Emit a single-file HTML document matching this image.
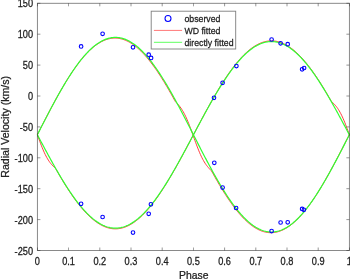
<!DOCTYPE html>
<html><head><meta charset="utf-8"><style>
html,body{margin:0;padding:0;background:#fff;width:350px;height:279px;overflow:hidden}
svg{display:block;filter:blur(0.35px)}
text{font-family:"Liberation Sans",sans-serif;stroke:#1a1a1a;stroke-width:0.25px}
</style></head><body>
<svg width="350" height="279" viewBox="0 0 350 279" font-family="Liberation Sans, sans-serif" font-size="9" fill="#262626">
<rect width="350" height="279" fill="#fff"/>
<polyline points="37.40,134.54 38.18,133.02 38.96,131.49 39.74,129.96 40.52,128.44 41.30,126.91 42.08,125.39 42.86,123.87 43.64,122.36 44.42,120.84 45.20,119.33 45.98,117.83 46.76,116.33 47.54,114.83 48.32,113.34 49.10,111.85 49.88,110.37 50.66,108.90 51.44,107.43 52.22,105.97 53.00,104.52 53.78,103.07 54.56,101.64 55.34,100.21 56.12,98.79 56.90,97.38 57.68,95.97 58.46,94.58 59.24,93.20 60.02,91.83 60.80,90.47 61.58,89.12 62.36,87.78 63.14,86.45 63.92,85.14 64.70,83.83 65.48,82.54 66.26,81.27 67.04,80.00 67.82,78.75 68.60,77.52 69.38,76.30 70.16,75.09 70.94,73.90 71.72,72.72 72.50,71.56 73.28,70.41 74.06,69.29 74.84,68.17 75.62,67.08 76.40,66.00 77.18,64.93 77.96,63.89 78.74,62.86 79.52,61.85 80.30,60.86 81.08,59.89 81.86,58.93 82.64,58.00 83.42,57.08 84.20,56.18 84.98,55.30 85.76,54.45 86.54,53.61 87.32,52.79 88.10,51.99 88.88,51.22 89.66,50.46 90.44,49.73 91.22,49.01 92.00,48.32 92.78,47.65 93.56,47.00 94.34,46.37 95.12,45.77 95.90,45.18 96.68,44.62 97.46,44.08 98.24,43.57 99.02,43.07 99.80,42.60 100.58,42.15 101.36,41.73 102.14,41.33 102.92,40.95 103.70,40.59 104.48,40.26 105.26,39.95 106.04,39.67 106.82,39.41 107.60,39.17 108.38,38.95 109.16,38.76 109.94,38.60 110.72,38.46 111.50,38.34 112.28,38.24 113.06,38.17 113.84,38.12 114.62,38.10 115.40,38.10 116.18,38.13 116.96,38.18 117.74,38.25 118.52,38.35 119.30,38.47 120.08,38.62 120.86,38.79 121.64,38.98 122.42,39.20 123.20,39.44 123.98,39.70 124.76,39.99 125.54,40.30 126.32,40.63 127.10,40.99 127.88,41.37 128.66,41.78 129.44,42.21 130.22,42.66 131.00,43.13 131.78,43.63 132.56,44.15 133.34,44.69 134.12,45.25 134.90,45.84 135.68,46.45 136.46,47.08 137.24,47.73 138.02,48.40 138.80,49.10 139.58,49.81 140.36,50.55 141.14,51.31 141.92,52.09 142.70,52.89 143.48,53.71 144.26,54.55 145.04,55.41 145.82,56.29 146.60,57.19 147.38,58.11 148.16,59.05 148.94,60.00 149.72,60.98 150.50,61.97 151.28,62.98 152.06,64.01 152.84,65.06 153.62,66.12 154.40,67.21 155.18,68.30 155.96,69.42 156.74,70.55 157.52,71.70 158.30,72.86 159.08,74.04 159.86,75.23 160.64,76.44 161.42,77.67 162.20,78.90 162.98,80.15 163.76,81.42 164.54,82.70 165.32,83.99 166.10,85.29 166.88,86.61 167.66,87.94 168.44,89.28 169.22,90.63 170.00,91.99 170.78,93.36 171.56,94.75 172.34,96.14 173.12,97.54 173.90,98.96 174.68,100.38 175.46,101.68 176.24,102.47 177.02,103.28 177.80,104.13 178.58,105.02 179.36,105.97 180.14,106.98 180.92,108.06 181.70,109.22 182.48,110.46 183.26,111.79 184.04,113.22 184.82,114.73 185.60,116.34 186.38,118.03 187.16,119.81 187.94,121.68 188.72,123.61 189.50,125.61 190.28,127.67 191.06,129.77 191.84,131.92 192.62,134.08 193.40,136.26 194.18,138.43 194.96,140.60 195.74,142.73 196.52,144.84 197.30,146.89 198.08,148.89 198.86,150.83 199.64,152.68 200.42,154.46 201.20,156.15 201.98,157.76 202.76,159.27 203.54,160.68 204.32,162.01 205.10,163.25 205.88,164.40 206.66,165.47 207.44,166.47 208.22,167.41 209.00,168.30 209.78,169.13 210.56,169.94 211.34,170.72 212.12,172.01 212.90,173.42 213.68,174.83 214.46,176.22 215.24,177.60 216.02,178.97 216.80,180.33 217.58,181.68 218.36,183.02 219.14,184.35 219.92,185.66 220.70,186.97 221.48,188.26 222.26,189.53 223.04,190.80 223.82,192.05 224.60,193.28 225.38,194.50 226.16,195.71 226.94,196.90 227.72,198.08 228.50,199.24 229.28,200.39 230.06,201.51 230.84,202.63 231.62,203.72 232.40,204.80 233.18,205.87 233.96,206.91 234.74,207.94 235.52,208.95 236.30,209.94 237.08,210.91 237.86,211.87 238.64,212.80 239.42,213.72 240.20,214.62 240.98,215.50 241.76,216.35 242.54,217.19 243.32,218.01 244.10,218.81 244.88,219.58 245.66,220.34 246.44,221.07 247.22,221.79 248.00,222.48 248.78,223.15 249.56,223.80 250.34,224.43 251.12,225.03 251.90,225.62 252.68,226.18 253.46,226.72 254.24,227.23 255.02,227.73 255.80,228.20 256.58,228.65 257.36,229.07 258.14,229.47 258.92,229.85 259.70,230.21 260.48,230.54 261.26,230.85 262.04,231.13 262.82,231.39 263.60,231.63 264.38,231.85 265.16,232.04 265.94,232.20 266.72,232.34 267.50,232.46 268.28,232.56 269.06,232.63 269.84,232.68 270.62,232.70 271.40,232.70 272.18,232.67 272.96,232.62 273.74,232.55 274.52,232.45 275.30,232.33 276.08,232.18 276.86,232.01 277.64,231.82 278.42,231.60 279.20,231.36 279.98,231.10 280.76,230.81 281.54,230.50 282.32,230.17 283.10,229.81 283.88,229.43 284.66,229.02 285.44,228.59 286.22,228.14 287.00,227.67 287.78,227.17 288.56,226.65 289.34,226.11 290.12,225.55 290.90,224.96 291.68,224.35 292.46,223.72 293.24,223.07 294.02,222.40 294.80,221.70 295.58,220.99 296.36,220.25 297.14,219.49 297.92,218.71 298.70,217.91 299.48,217.09 300.26,216.25 301.04,215.39 301.82,214.51 302.60,213.61 303.38,212.69 304.16,211.75 304.94,210.80 305.72,209.82 306.50,208.83 307.28,207.82 308.06,206.79 308.84,205.74 309.62,204.68 310.40,203.59 311.18,202.50 311.96,201.38 312.74,200.25 313.52,199.10 314.30,197.94 315.08,196.76 315.86,195.57 316.64,194.36 317.42,193.13 318.20,191.90 318.98,190.65 319.76,189.38 320.54,188.10 321.32,186.81 322.10,185.51 322.88,184.19 323.66,182.86 324.44,181.52 325.22,180.17 326.00,178.81 326.78,177.44 327.56,176.05 328.34,174.66 329.12,173.26 329.90,171.84 330.68,170.42 331.46,168.99 332.24,167.55 333.02,166.11 333.80,164.65 334.58,163.19 335.36,161.72 336.14,160.25 336.92,158.77 337.70,157.28 338.48,155.79 339.26,154.29 340.04,152.79 340.82,151.28 341.60,149.78 342.38,148.26 343.16,146.75 343.94,145.23 344.72,143.70 345.50,142.18 346.28,140.66 347.06,139.13 347.84,137.60 348.62,136.07 349.40,134.54" fill="none" stroke="#ff2828" stroke-width="0.9"/>
<polyline points="37.40,134.85 38.18,137.00 38.96,139.14 39.74,141.25 40.52,143.33 41.30,145.36 42.08,147.33 42.86,149.23 43.64,151.05 44.42,152.79 45.20,154.44 45.98,155.99 46.76,157.46 47.54,158.82 48.32,160.09 49.10,161.27 49.88,162.37 50.66,163.38 51.44,164.31 52.22,165.18 53.00,166.00 53.78,166.77 54.56,167.50 55.34,168.21 56.12,169.45 56.90,170.82 57.68,172.18 58.46,173.53 59.24,174.87 60.02,176.20 60.80,177.53 61.58,178.84 62.36,180.13 63.14,181.42 63.92,182.70 64.70,183.96 65.48,185.22 66.26,186.46 67.04,187.69 67.82,188.90 68.60,190.10 69.38,191.29 70.16,192.46 70.94,193.62 71.72,194.77 72.50,195.90 73.28,197.01 74.06,198.11 74.84,199.20 75.62,200.27 76.40,201.32 77.18,202.35 77.96,203.37 78.74,204.38 79.52,205.36 80.30,206.33 81.08,207.28 81.86,208.21 82.64,209.12 83.42,210.02 84.20,210.90 84.98,211.76 85.76,212.60 86.54,213.42 87.32,214.22 88.10,215.00 88.88,215.76 89.66,216.50 90.44,217.22 91.22,217.92 92.00,218.60 92.78,219.26 93.56,219.90 94.34,220.52 95.12,221.12 95.90,221.69 96.68,222.25 97.46,222.78 98.24,223.29 99.02,223.78 99.80,224.25 100.58,224.69 101.36,225.12 102.14,225.52 102.92,225.90 103.70,226.25 104.48,226.59 105.26,226.90 106.04,227.19 106.82,227.45 107.60,227.69 108.38,227.91 109.16,228.11 109.94,228.28 110.72,228.43 111.50,228.56 112.28,228.66 113.06,228.75 113.84,228.80 114.62,228.84 115.40,228.85 116.18,228.84 116.96,228.80 117.74,228.75 118.52,228.66 119.30,228.56 120.08,228.43 120.86,228.28 121.64,228.11 122.42,227.91 123.20,227.69 123.98,227.45 124.76,227.19 125.54,226.90 126.32,226.59 127.10,226.25 127.88,225.90 128.66,225.52 129.44,225.12 130.22,224.69 131.00,224.25 131.78,223.78 132.56,223.29 133.34,222.78 134.12,222.25 134.90,221.69 135.68,221.12 136.46,220.52 137.24,219.90 138.02,219.26 138.80,218.60 139.58,217.92 140.36,217.22 141.14,216.50 141.92,215.76 142.70,215.00 143.48,214.22 144.26,213.42 145.04,212.60 145.82,211.76 146.60,210.90 147.38,210.02 148.16,209.12 148.94,208.21 149.72,207.28 150.50,206.33 151.28,205.36 152.06,204.38 152.84,203.37 153.62,202.35 154.40,201.32 155.18,200.27 155.96,199.20 156.74,198.11 157.52,197.01 158.30,195.90 159.08,194.77 159.86,193.62 160.64,192.46 161.42,191.29 162.20,190.10 162.98,188.90 163.76,187.69 164.54,186.46 165.32,185.22 166.10,183.96 166.88,182.70 167.66,181.42 168.44,180.13 169.22,178.84 170.00,177.53 170.78,176.20 171.56,174.87 172.34,173.53 173.12,172.18 173.90,170.82 174.68,169.45 175.46,168.08 176.24,166.69 177.02,165.30 177.80,163.90 178.58,162.49 179.36,161.08 180.14,159.65 180.92,158.23 181.70,156.79 182.48,155.36 183.26,153.91 184.04,152.46 184.82,151.01 185.60,149.55 186.38,148.09 187.16,146.63 187.94,145.17 188.72,143.70 189.50,142.23 190.28,140.75 191.06,139.28 191.84,137.80 192.62,136.33 193.40,134.85 194.18,133.37 194.96,131.90 195.74,130.42 196.52,128.95 197.30,127.47 198.08,126.00 198.86,124.53 199.64,123.07 200.42,121.61 201.20,120.15 201.98,118.69 202.76,117.24 203.54,115.79 204.32,114.34 205.10,112.91 205.88,111.47 206.66,110.05 207.44,108.62 208.22,107.21 209.00,105.80 209.78,104.40 210.56,103.01 211.34,101.62 212.12,100.25 212.90,98.88 213.68,97.52 214.46,96.17 215.24,94.83 216.02,93.50 216.80,92.17 217.58,90.86 218.36,89.57 219.14,88.28 219.92,87.00 220.70,85.74 221.48,84.48 222.26,83.24 223.04,82.01 223.82,80.80 224.60,79.60 225.38,78.41 226.16,77.24 226.94,76.08 227.72,74.93 228.50,73.80 229.28,72.69 230.06,71.59 230.84,70.50 231.62,69.43 232.40,68.38 233.18,67.35 233.96,66.33 234.74,65.32 235.52,64.34 236.30,63.37 237.08,62.42 237.86,61.49 238.64,60.58 239.42,59.68 240.20,58.80 240.98,57.94 241.76,57.10 242.54,56.28 243.32,55.48 244.10,54.70 244.88,53.94 245.66,53.20 246.44,52.48 247.22,51.78 248.00,51.10 248.78,50.44 249.56,49.80 250.34,49.18 251.12,48.58 251.90,48.01 252.68,47.45 253.46,46.92 254.24,46.41 255.02,45.92 255.80,45.45 256.58,45.01 257.36,44.58 258.14,44.18 258.92,43.80 259.70,43.45 260.48,43.11 261.26,42.80 262.04,42.51 262.82,42.25 263.60,42.01 264.38,41.79 265.16,41.59 265.94,41.42 266.72,41.27 267.50,41.14 268.28,41.04 269.06,40.95 269.84,40.90 270.62,40.86 271.40,40.85 272.18,40.86 272.96,40.90 273.74,40.95 274.52,41.04 275.30,41.14 276.08,41.27 276.86,41.42 277.64,41.59 278.42,41.79 279.20,42.01 279.98,42.25 280.76,42.51 281.54,42.80 282.32,43.11 283.10,43.45 283.88,43.80 284.66,44.18 285.44,44.58 286.22,45.01 287.00,45.45 287.78,45.92 288.56,46.41 289.34,46.92 290.12,47.45 290.90,48.01 291.68,48.58 292.46,49.18 293.24,49.80 294.02,50.44 294.80,51.10 295.58,51.78 296.36,52.48 297.14,53.20 297.92,53.94 298.70,54.70 299.48,55.48 300.26,56.28 301.04,57.10 301.82,57.94 302.60,58.80 303.38,59.68 304.16,60.58 304.94,61.49 305.72,62.42 306.50,63.37 307.28,64.34 308.06,65.32 308.84,66.33 309.62,67.35 310.40,68.38 311.18,69.43 311.96,70.50 312.74,71.59 313.52,72.69 314.30,73.80 315.08,74.93 315.86,76.08 316.64,77.24 317.42,78.41 318.20,79.60 318.98,80.80 319.76,82.01 320.54,83.24 321.32,84.48 322.10,85.74 322.88,87.00 323.66,88.28 324.44,89.57 325.22,90.86 326.00,92.17 326.78,93.50 327.56,94.83 328.34,96.17 329.12,97.52 329.90,98.88 330.68,100.25 331.46,101.49 332.24,102.20 333.02,102.93 333.80,103.70 334.58,104.52 335.36,105.39 336.14,106.32 336.92,107.33 337.70,108.43 338.48,109.61 339.26,110.88 340.04,112.24 340.82,113.71 341.60,115.26 342.38,116.91 343.16,118.65 343.94,120.47 344.72,122.37 345.50,124.34 346.28,126.37 347.06,128.45 347.84,130.56 348.62,132.70 349.40,134.85" fill="none" stroke="#ff2828" stroke-width="0.9"/>
<polyline points="37.40,134.70 38.18,133.17 38.96,131.64 39.74,130.12 40.52,128.59 41.30,127.07 42.08,125.54 42.86,124.02 43.64,122.51 44.42,120.99 45.20,119.48 45.98,117.97 46.76,116.47 47.54,114.97 48.32,113.47 49.10,111.99 49.88,110.50 50.66,109.03 51.44,107.55 52.22,106.09 53.00,104.63 53.78,103.18 54.56,101.74 55.34,100.31 56.12,98.88 56.90,97.46 57.68,96.06 58.46,94.66 59.24,93.27 60.02,91.89 60.80,90.53 61.58,89.17 62.36,87.83 63.14,86.49 63.92,85.17 64.70,83.86 65.48,82.56 66.26,81.28 67.04,80.01 67.82,78.75 68.60,77.51 69.38,76.28 70.16,75.06 70.94,73.86 71.72,72.68 72.50,71.51 73.28,70.35 74.06,69.22 74.84,68.09 75.62,66.99 76.40,65.90 77.18,64.83 77.96,63.77 78.74,62.73 79.52,61.71 80.30,60.71 81.08,59.73 81.86,58.76 82.64,57.82 83.42,56.89 84.20,55.98 84.98,55.09 85.76,54.23 86.54,53.38 87.32,52.55 88.10,51.74 88.88,50.95 89.66,50.18 90.44,49.44 91.22,48.71 92.00,48.01 92.78,47.32 93.56,46.66 94.34,46.02 95.12,45.40 95.90,44.81 96.68,44.23 97.46,43.68 98.24,43.15 99.02,42.65 99.80,42.16 100.58,41.70 101.36,41.26 102.14,40.85 102.92,40.46 103.70,40.09 104.48,39.74 105.26,39.42 106.04,39.12 106.82,38.85 107.60,38.60 108.38,38.37 109.16,38.17 109.94,37.99 110.72,37.83 111.50,37.70 112.28,37.59 113.06,37.51 113.84,37.45 114.62,37.41 115.40,37.40 116.18,37.41 116.96,37.45 117.74,37.51 118.52,37.59 119.30,37.70 120.08,37.83 120.86,37.99 121.64,38.17 122.42,38.37 123.20,38.60 123.98,38.85 124.76,39.12 125.54,39.42 126.32,39.74 127.10,40.09 127.88,40.46 128.66,40.85 129.44,41.26 130.22,41.70 131.00,42.16 131.78,42.65 132.56,43.15 133.34,43.68 134.12,44.23 134.90,44.81 135.68,45.40 136.46,46.02 137.24,46.66 138.02,47.32 138.80,48.01 139.58,48.71 140.36,49.44 141.14,50.18 141.92,50.95 142.70,51.74 143.48,52.55 144.26,53.38 145.04,54.23 145.82,55.09 146.60,55.98 147.38,56.89 148.16,57.82 148.94,58.76 149.72,59.73 150.50,60.71 151.28,61.71 152.06,62.73 152.84,63.77 153.62,64.83 154.40,65.90 155.18,66.99 155.96,68.09 156.74,69.22 157.52,70.35 158.30,71.51 159.08,72.68 159.86,73.86 160.64,75.06 161.42,76.28 162.20,77.51 162.98,78.75 163.76,80.01 164.54,81.28 165.32,82.56 166.10,83.86 166.88,85.17 167.66,86.49 168.44,87.83 169.22,89.17 170.00,90.53 170.78,91.89 171.56,93.27 172.34,94.66 173.12,96.06 173.90,97.46 174.68,98.88 175.46,100.31 176.24,101.74 177.02,103.18 177.80,104.63 178.58,106.09 179.36,107.55 180.14,109.03 180.92,110.50 181.70,111.99 182.48,113.47 183.26,114.97 184.04,116.47 184.82,117.97 185.60,119.48 186.38,120.99 187.16,122.51 187.94,124.02 188.72,125.54 189.50,127.07 190.28,128.59 191.06,130.12 191.84,131.64 192.62,133.17 193.40,134.70 194.18,136.23 194.96,137.76 195.74,139.28 196.52,140.81 197.30,142.33 198.08,143.86 198.86,145.38 199.64,146.89 200.42,148.41 201.20,149.92 201.98,151.43 202.76,152.93 203.54,154.43 204.32,155.93 205.10,157.41 205.88,158.90 206.66,160.37 207.44,161.85 208.22,163.31 209.00,164.77 209.78,166.22 210.56,167.66 211.34,169.09 212.12,170.52 212.90,171.94 213.68,173.34 214.46,174.74 215.24,176.13 216.02,177.51 216.80,178.87 217.58,180.23 218.36,181.57 219.14,182.91 219.92,184.23 220.70,185.54 221.48,186.84 222.26,188.12 223.04,189.39 223.82,190.65 224.60,191.89 225.38,193.12 226.16,194.34 226.94,195.54 227.72,196.72 228.50,197.89 229.28,199.05 230.06,200.18 230.84,201.31 231.62,202.41 232.40,203.50 233.18,204.57 233.96,205.63 234.74,206.67 235.52,207.69 236.30,208.69 237.08,209.67 237.86,210.64 238.64,211.58 239.42,212.51 240.20,213.42 240.98,214.31 241.76,215.17 242.54,216.02 243.32,216.85 244.10,217.66 244.88,218.45 245.66,219.22 246.44,219.96 247.22,220.69 248.00,221.39 248.78,222.08 249.56,222.74 250.34,223.38 251.12,224.00 251.90,224.59 252.68,225.17 253.46,225.72 254.24,226.25 255.02,226.75 255.80,227.24 256.58,227.70 257.36,228.14 258.14,228.55 258.92,228.94 259.70,229.31 260.48,229.66 261.26,229.98 262.04,230.28 262.82,230.55 263.60,230.80 264.38,231.03 265.16,231.23 265.94,231.41 266.72,231.57 267.50,231.70 268.28,231.81 269.06,231.89 269.84,231.95 270.62,231.99 271.40,232.00 272.18,231.99 272.96,231.95 273.74,231.89 274.52,231.81 275.30,231.70 276.08,231.57 276.86,231.41 277.64,231.23 278.42,231.03 279.20,230.80 279.98,230.55 280.76,230.28 281.54,229.98 282.32,229.66 283.10,229.31 283.88,228.94 284.66,228.55 285.44,228.14 286.22,227.70 287.00,227.24 287.78,226.75 288.56,226.25 289.34,225.72 290.12,225.17 290.90,224.59 291.68,224.00 292.46,223.38 293.24,222.74 294.02,222.08 294.80,221.39 295.58,220.69 296.36,219.96 297.14,219.22 297.92,218.45 298.70,217.66 299.48,216.85 300.26,216.02 301.04,215.17 301.82,214.31 302.60,213.42 303.38,212.51 304.16,211.58 304.94,210.64 305.72,209.67 306.50,208.69 307.28,207.69 308.06,206.67 308.84,205.63 309.62,204.57 310.40,203.50 311.18,202.41 311.96,201.31 312.74,200.18 313.52,199.05 314.30,197.89 315.08,196.72 315.86,195.54 316.64,194.34 317.42,193.12 318.20,191.89 318.98,190.65 319.76,189.39 320.54,188.12 321.32,186.84 322.10,185.54 322.88,184.23 323.66,182.91 324.44,181.57 325.22,180.23 326.00,178.87 326.78,177.51 327.56,176.13 328.34,174.74 329.12,173.34 329.90,171.94 330.68,170.52 331.46,169.09 332.24,167.66 333.02,166.22 333.80,164.77 334.58,163.31 335.36,161.85 336.14,160.37 336.92,158.90 337.70,157.41 338.48,155.93 339.26,154.43 340.04,152.93 340.82,151.43 341.60,149.92 342.38,148.41 343.16,146.89 343.94,145.38 344.72,143.86 345.50,142.33 346.28,140.81 347.06,139.28 347.84,137.76 348.62,136.23 349.40,134.70" fill="none" stroke="#c8ffc8" stroke-width="0"/>
<polyline points="37.40,134.85 38.18,136.32 38.96,137.78 39.74,139.25 40.52,140.71 41.30,142.17 42.08,143.63 42.86,145.09 43.64,146.54 44.42,148.00 45.20,149.45 45.98,150.89 46.76,152.33 47.54,153.77 48.32,155.20 49.10,156.63 49.88,158.05 50.66,159.47 51.44,160.88 52.22,162.28 53.00,163.68 53.78,165.07 54.56,166.45 55.34,167.83 56.12,169.20 56.90,170.55 57.68,171.90 58.46,173.24 59.24,174.58 60.02,175.90 60.80,177.21 61.58,178.51 62.36,179.80 63.14,181.08 63.92,182.34 64.70,183.60 65.48,184.84 66.26,186.07 67.04,187.29 67.82,188.50 68.60,189.69 69.38,190.87 70.16,192.03 70.94,193.19 71.72,194.32 72.50,195.44 73.28,196.55 74.06,197.64 74.84,198.72 75.62,199.78 76.40,200.82 77.18,201.85 77.96,202.86 78.74,203.86 79.52,204.84 80.30,205.80 81.08,206.74 81.86,207.66 82.64,208.57 83.42,209.46 84.20,210.33 84.98,211.18 85.76,212.02 86.54,212.83 87.32,213.63 88.10,214.40 88.88,215.16 89.66,215.89 90.44,216.61 91.22,217.31 92.00,217.98 92.78,218.64 93.56,219.27 94.34,219.88 95.12,220.48 95.90,221.05 96.68,221.60 97.46,222.13 98.24,222.63 99.02,223.12 99.80,223.58 100.58,224.03 101.36,224.45 102.14,224.84 102.92,225.22 103.70,225.57 104.48,225.90 105.26,226.21 106.04,226.50 106.82,226.76 107.60,227.00 108.38,227.22 109.16,227.41 109.94,227.59 110.72,227.74 111.50,227.86 112.28,227.97 113.06,228.05 113.84,228.10 114.62,228.14 115.40,228.15 116.18,228.14 116.96,228.10 117.74,228.05 118.52,227.97 119.30,227.86 120.08,227.74 120.86,227.59 121.64,227.41 122.42,227.22 123.20,227.00 123.98,226.76 124.76,226.50 125.54,226.21 126.32,225.90 127.10,225.57 127.88,225.22 128.66,224.84 129.44,224.45 130.22,224.03 131.00,223.58 131.78,223.12 132.56,222.63 133.34,222.13 134.12,221.60 134.90,221.05 135.68,220.48 136.46,219.88 137.24,219.27 138.02,218.64 138.80,217.98 139.58,217.31 140.36,216.61 141.14,215.89 141.92,215.16 142.70,214.40 143.48,213.63 144.26,212.83 145.04,212.02 145.82,211.18 146.60,210.33 147.38,209.46 148.16,208.57 148.94,207.66 149.72,206.74 150.50,205.80 151.28,204.84 152.06,203.86 152.84,202.86 153.62,201.85 154.40,200.82 155.18,199.78 155.96,198.72 156.74,197.64 157.52,196.55 158.30,195.44 159.08,194.32 159.86,193.19 160.64,192.03 161.42,190.87 162.20,189.69 162.98,188.50 163.76,187.29 164.54,186.07 165.32,184.84 166.10,183.60 166.88,182.34 167.66,181.08 168.44,179.80 169.22,178.51 170.00,177.21 170.78,175.90 171.56,174.58 172.34,173.24 173.12,171.90 173.90,170.55 174.68,169.20 175.46,167.83 176.24,166.45 177.02,165.07 177.80,163.68 178.58,162.28 179.36,160.88 180.14,159.47 180.92,158.05 181.70,156.63 182.48,155.20 183.26,153.77 184.04,152.33 184.82,150.89 185.60,149.45 186.38,148.00 187.16,146.54 187.94,145.09 188.72,143.63 189.50,142.17 190.28,140.71 191.06,139.25 191.84,137.78 192.62,136.32 193.40,134.85 194.18,133.38 194.96,131.92 195.74,130.45 196.52,128.99 197.30,127.53 198.08,126.07 198.86,124.61 199.64,123.16 200.42,121.70 201.20,120.25 201.98,118.81 202.76,117.37 203.54,115.93 204.32,114.50 205.10,113.07 205.88,111.65 206.66,110.23 207.44,108.82 208.22,107.42 209.00,106.02 209.78,104.63 210.56,103.25 211.34,101.87 212.12,100.50 212.90,99.15 213.68,97.80 214.46,96.46 215.24,95.12 216.02,93.80 216.80,92.49 217.58,91.19 218.36,89.90 219.14,88.62 219.92,87.36 220.70,86.10 221.48,84.86 222.26,83.63 223.04,82.41 223.82,81.20 224.60,80.01 225.38,78.83 226.16,77.67 226.94,76.51 227.72,75.38 228.50,74.26 229.28,73.15 230.06,72.06 230.84,70.98 231.62,69.92 232.40,68.88 233.18,67.85 233.96,66.84 234.74,65.84 235.52,64.86 236.30,63.90 237.08,62.96 237.86,62.04 238.64,61.13 239.42,60.24 240.20,59.37 240.98,58.52 241.76,57.68 242.54,56.87 243.32,56.07 244.10,55.30 244.88,54.54 245.66,53.81 246.44,53.09 247.22,52.39 248.00,51.72 248.78,51.06 249.56,50.43 250.34,49.82 251.12,49.22 251.90,48.65 252.68,48.10 253.46,47.57 254.24,47.07 255.02,46.58 255.80,46.12 256.58,45.67 257.36,45.25 258.14,44.86 258.92,44.48 259.70,44.13 260.48,43.80 261.26,43.49 262.04,43.20 262.82,42.94 263.60,42.70 264.38,42.48 265.16,42.29 265.94,42.11 266.72,41.96 267.50,41.84 268.28,41.73 269.06,41.65 269.84,41.60 270.62,41.56 271.40,41.55 272.18,41.56 272.96,41.60 273.74,41.65 274.52,41.73 275.30,41.84 276.08,41.96 276.86,42.11 277.64,42.29 278.42,42.48 279.20,42.70 279.98,42.94 280.76,43.20 281.54,43.49 282.32,43.80 283.10,44.13 283.88,44.48 284.66,44.86 285.44,45.25 286.22,45.67 287.00,46.12 287.78,46.58 288.56,47.07 289.34,47.57 290.12,48.10 290.90,48.65 291.68,49.22 292.46,49.82 293.24,50.43 294.02,51.06 294.80,51.72 295.58,52.39 296.36,53.09 297.14,53.81 297.92,54.54 298.70,55.30 299.48,56.07 300.26,56.87 301.04,57.68 301.82,58.52 302.60,59.37 303.38,60.24 304.16,61.13 304.94,62.04 305.72,62.96 306.50,63.90 307.28,64.86 308.06,65.84 308.84,66.84 309.62,67.85 310.40,68.88 311.18,69.92 311.96,70.98 312.74,72.06 313.52,73.15 314.30,74.26 315.08,75.38 315.86,76.51 316.64,77.67 317.42,78.83 318.20,80.01 318.98,81.20 319.76,82.41 320.54,83.63 321.32,84.86 322.10,86.10 322.88,87.36 323.66,88.62 324.44,89.90 325.22,91.19 326.00,92.49 326.78,93.80 327.56,95.12 328.34,96.46 329.12,97.80 329.90,99.15 330.68,100.50 331.46,101.87 332.24,103.25 333.02,104.63 333.80,106.02 334.58,107.42 335.36,108.82 336.14,110.23 336.92,111.65 337.70,113.07 338.48,114.50 339.26,115.93 340.04,117.37 340.82,118.81 341.60,120.25 342.38,121.70 343.16,123.16 343.94,124.61 344.72,126.07 345.50,127.53 346.28,128.99 347.06,130.45 347.84,131.92 348.62,133.38 349.40,134.85" fill="none" stroke="#c8ffc8" stroke-width="0"/>
<polyline points="37.40,134.70 38.18,133.17 38.96,131.64 39.74,130.12 40.52,128.59 41.30,127.07 42.08,125.54 42.86,124.02 43.64,122.51 44.42,120.99 45.20,119.48 45.98,117.97 46.76,116.47 47.54,114.97 48.32,113.47 49.10,111.99 49.88,110.50 50.66,109.03 51.44,107.55 52.22,106.09 53.00,104.63 53.78,103.18 54.56,101.74 55.34,100.31 56.12,98.88 56.90,97.46 57.68,96.06 58.46,94.66 59.24,93.27 60.02,91.89 60.80,90.53 61.58,89.17 62.36,87.83 63.14,86.49 63.92,85.17 64.70,83.86 65.48,82.56 66.26,81.28 67.04,80.01 67.82,78.75 68.60,77.51 69.38,76.28 70.16,75.06 70.94,73.86 71.72,72.68 72.50,71.51 73.28,70.35 74.06,69.22 74.84,68.09 75.62,66.99 76.40,65.90 77.18,64.83 77.96,63.77 78.74,62.73 79.52,61.71 80.30,60.71 81.08,59.73 81.86,58.76 82.64,57.82 83.42,56.89 84.20,55.98 84.98,55.09 85.76,54.23 86.54,53.38 87.32,52.55 88.10,51.74 88.88,50.95 89.66,50.18 90.44,49.44 91.22,48.71 92.00,48.01 92.78,47.32 93.56,46.66 94.34,46.02 95.12,45.40 95.90,44.81 96.68,44.23 97.46,43.68 98.24,43.15 99.02,42.65 99.80,42.16 100.58,41.70 101.36,41.26 102.14,40.85 102.92,40.46 103.70,40.09 104.48,39.74 105.26,39.42 106.04,39.12 106.82,38.85 107.60,38.60 108.38,38.37 109.16,38.17 109.94,37.99 110.72,37.83 111.50,37.70 112.28,37.59 113.06,37.51 113.84,37.45 114.62,37.41 115.40,37.40 116.18,37.41 116.96,37.45 117.74,37.51 118.52,37.59 119.30,37.70 120.08,37.83 120.86,37.99 121.64,38.17 122.42,38.37 123.20,38.60 123.98,38.85 124.76,39.12 125.54,39.42 126.32,39.74 127.10,40.09 127.88,40.46 128.66,40.85 129.44,41.26 130.22,41.70 131.00,42.16 131.78,42.65 132.56,43.15 133.34,43.68 134.12,44.23 134.90,44.81 135.68,45.40 136.46,46.02 137.24,46.66 138.02,47.32 138.80,48.01 139.58,48.71 140.36,49.44 141.14,50.18 141.92,50.95 142.70,51.74 143.48,52.55 144.26,53.38 145.04,54.23 145.82,55.09 146.60,55.98 147.38,56.89 148.16,57.82 148.94,58.76 149.72,59.73 150.50,60.71 151.28,61.71 152.06,62.73 152.84,63.77 153.62,64.83 154.40,65.90 155.18,66.99 155.96,68.09 156.74,69.22 157.52,70.35 158.30,71.51 159.08,72.68 159.86,73.86 160.64,75.06 161.42,76.28 162.20,77.51 162.98,78.75 163.76,80.01 164.54,81.28 165.32,82.56 166.10,83.86 166.88,85.17 167.66,86.49 168.44,87.83 169.22,89.17 170.00,90.53 170.78,91.89 171.56,93.27 172.34,94.66 173.12,96.06 173.90,97.46 174.68,98.88 175.46,100.31 176.24,101.74 177.02,103.18 177.80,104.63 178.58,106.09 179.36,107.55 180.14,109.03 180.92,110.50 181.70,111.99 182.48,113.47 183.26,114.97 184.04,116.47 184.82,117.97 185.60,119.48 186.38,120.99 187.16,122.51 187.94,124.02 188.72,125.54 189.50,127.07 190.28,128.59 191.06,130.12 191.84,131.64 192.62,133.17 193.40,134.70 194.18,136.23 194.96,137.76 195.74,139.28 196.52,140.81 197.30,142.33 198.08,143.86 198.86,145.38 199.64,146.89 200.42,148.41 201.20,149.92 201.98,151.43 202.76,152.93 203.54,154.43 204.32,155.93 205.10,157.41 205.88,158.90 206.66,160.37 207.44,161.85 208.22,163.31 209.00,164.77 209.78,166.22 210.56,167.66 211.34,169.09 212.12,170.52 212.90,171.94 213.68,173.34 214.46,174.74 215.24,176.13 216.02,177.51 216.80,178.87 217.58,180.23 218.36,181.57 219.14,182.91 219.92,184.23 220.70,185.54 221.48,186.84 222.26,188.12 223.04,189.39 223.82,190.65 224.60,191.89 225.38,193.12 226.16,194.34 226.94,195.54 227.72,196.72 228.50,197.89 229.28,199.05 230.06,200.18 230.84,201.31 231.62,202.41 232.40,203.50 233.18,204.57 233.96,205.63 234.74,206.67 235.52,207.69 236.30,208.69 237.08,209.67 237.86,210.64 238.64,211.58 239.42,212.51 240.20,213.42 240.98,214.31 241.76,215.17 242.54,216.02 243.32,216.85 244.10,217.66 244.88,218.45 245.66,219.22 246.44,219.96 247.22,220.69 248.00,221.39 248.78,222.08 249.56,222.74 250.34,223.38 251.12,224.00 251.90,224.59 252.68,225.17 253.46,225.72 254.24,226.25 255.02,226.75 255.80,227.24 256.58,227.70 257.36,228.14 258.14,228.55 258.92,228.94 259.70,229.31 260.48,229.66 261.26,229.98 262.04,230.28 262.82,230.55 263.60,230.80 264.38,231.03 265.16,231.23 265.94,231.41 266.72,231.57 267.50,231.70 268.28,231.81 269.06,231.89 269.84,231.95 270.62,231.99 271.40,232.00 272.18,231.99 272.96,231.95 273.74,231.89 274.52,231.81 275.30,231.70 276.08,231.57 276.86,231.41 277.64,231.23 278.42,231.03 279.20,230.80 279.98,230.55 280.76,230.28 281.54,229.98 282.32,229.66 283.10,229.31 283.88,228.94 284.66,228.55 285.44,228.14 286.22,227.70 287.00,227.24 287.78,226.75 288.56,226.25 289.34,225.72 290.12,225.17 290.90,224.59 291.68,224.00 292.46,223.38 293.24,222.74 294.02,222.08 294.80,221.39 295.58,220.69 296.36,219.96 297.14,219.22 297.92,218.45 298.70,217.66 299.48,216.85 300.26,216.02 301.04,215.17 301.82,214.31 302.60,213.42 303.38,212.51 304.16,211.58 304.94,210.64 305.72,209.67 306.50,208.69 307.28,207.69 308.06,206.67 308.84,205.63 309.62,204.57 310.40,203.50 311.18,202.41 311.96,201.31 312.74,200.18 313.52,199.05 314.30,197.89 315.08,196.72 315.86,195.54 316.64,194.34 317.42,193.12 318.20,191.89 318.98,190.65 319.76,189.39 320.54,188.12 321.32,186.84 322.10,185.54 322.88,184.23 323.66,182.91 324.44,181.57 325.22,180.23 326.00,178.87 326.78,177.51 327.56,176.13 328.34,174.74 329.12,173.34 329.90,171.94 330.68,170.52 331.46,169.09 332.24,167.66 333.02,166.22 333.80,164.77 334.58,163.31 335.36,161.85 336.14,160.37 336.92,158.90 337.70,157.41 338.48,155.93 339.26,154.43 340.04,152.93 340.82,151.43 341.60,149.92 342.38,148.41 343.16,146.89 343.94,145.38 344.72,143.86 345.50,142.33 346.28,140.81 347.06,139.28 347.84,137.76 348.62,136.23 349.40,134.70" fill="none" stroke="#30ff30" stroke-width="1.2"/>
<polyline points="37.40,134.85 38.18,136.32 38.96,137.78 39.74,139.25 40.52,140.71 41.30,142.17 42.08,143.63 42.86,145.09 43.64,146.54 44.42,148.00 45.20,149.45 45.98,150.89 46.76,152.33 47.54,153.77 48.32,155.20 49.10,156.63 49.88,158.05 50.66,159.47 51.44,160.88 52.22,162.28 53.00,163.68 53.78,165.07 54.56,166.45 55.34,167.83 56.12,169.20 56.90,170.55 57.68,171.90 58.46,173.24 59.24,174.58 60.02,175.90 60.80,177.21 61.58,178.51 62.36,179.80 63.14,181.08 63.92,182.34 64.70,183.60 65.48,184.84 66.26,186.07 67.04,187.29 67.82,188.50 68.60,189.69 69.38,190.87 70.16,192.03 70.94,193.19 71.72,194.32 72.50,195.44 73.28,196.55 74.06,197.64 74.84,198.72 75.62,199.78 76.40,200.82 77.18,201.85 77.96,202.86 78.74,203.86 79.52,204.84 80.30,205.80 81.08,206.74 81.86,207.66 82.64,208.57 83.42,209.46 84.20,210.33 84.98,211.18 85.76,212.02 86.54,212.83 87.32,213.63 88.10,214.40 88.88,215.16 89.66,215.89 90.44,216.61 91.22,217.31 92.00,217.98 92.78,218.64 93.56,219.27 94.34,219.88 95.12,220.48 95.90,221.05 96.68,221.60 97.46,222.13 98.24,222.63 99.02,223.12 99.80,223.58 100.58,224.03 101.36,224.45 102.14,224.84 102.92,225.22 103.70,225.57 104.48,225.90 105.26,226.21 106.04,226.50 106.82,226.76 107.60,227.00 108.38,227.22 109.16,227.41 109.94,227.59 110.72,227.74 111.50,227.86 112.28,227.97 113.06,228.05 113.84,228.10 114.62,228.14 115.40,228.15 116.18,228.14 116.96,228.10 117.74,228.05 118.52,227.97 119.30,227.86 120.08,227.74 120.86,227.59 121.64,227.41 122.42,227.22 123.20,227.00 123.98,226.76 124.76,226.50 125.54,226.21 126.32,225.90 127.10,225.57 127.88,225.22 128.66,224.84 129.44,224.45 130.22,224.03 131.00,223.58 131.78,223.12 132.56,222.63 133.34,222.13 134.12,221.60 134.90,221.05 135.68,220.48 136.46,219.88 137.24,219.27 138.02,218.64 138.80,217.98 139.58,217.31 140.36,216.61 141.14,215.89 141.92,215.16 142.70,214.40 143.48,213.63 144.26,212.83 145.04,212.02 145.82,211.18 146.60,210.33 147.38,209.46 148.16,208.57 148.94,207.66 149.72,206.74 150.50,205.80 151.28,204.84 152.06,203.86 152.84,202.86 153.62,201.85 154.40,200.82 155.18,199.78 155.96,198.72 156.74,197.64 157.52,196.55 158.30,195.44 159.08,194.32 159.86,193.19 160.64,192.03 161.42,190.87 162.20,189.69 162.98,188.50 163.76,187.29 164.54,186.07 165.32,184.84 166.10,183.60 166.88,182.34 167.66,181.08 168.44,179.80 169.22,178.51 170.00,177.21 170.78,175.90 171.56,174.58 172.34,173.24 173.12,171.90 173.90,170.55 174.68,169.20 175.46,167.83 176.24,166.45 177.02,165.07 177.80,163.68 178.58,162.28 179.36,160.88 180.14,159.47 180.92,158.05 181.70,156.63 182.48,155.20 183.26,153.77 184.04,152.33 184.82,150.89 185.60,149.45 186.38,148.00 187.16,146.54 187.94,145.09 188.72,143.63 189.50,142.17 190.28,140.71 191.06,139.25 191.84,137.78 192.62,136.32 193.40,134.85 194.18,133.38 194.96,131.92 195.74,130.45 196.52,128.99 197.30,127.53 198.08,126.07 198.86,124.61 199.64,123.16 200.42,121.70 201.20,120.25 201.98,118.81 202.76,117.37 203.54,115.93 204.32,114.50 205.10,113.07 205.88,111.65 206.66,110.23 207.44,108.82 208.22,107.42 209.00,106.02 209.78,104.63 210.56,103.25 211.34,101.87 212.12,100.50 212.90,99.15 213.68,97.80 214.46,96.46 215.24,95.12 216.02,93.80 216.80,92.49 217.58,91.19 218.36,89.90 219.14,88.62 219.92,87.36 220.70,86.10 221.48,84.86 222.26,83.63 223.04,82.41 223.82,81.20 224.60,80.01 225.38,78.83 226.16,77.67 226.94,76.51 227.72,75.38 228.50,74.26 229.28,73.15 230.06,72.06 230.84,70.98 231.62,69.92 232.40,68.88 233.18,67.85 233.96,66.84 234.74,65.84 235.52,64.86 236.30,63.90 237.08,62.96 237.86,62.04 238.64,61.13 239.42,60.24 240.20,59.37 240.98,58.52 241.76,57.68 242.54,56.87 243.32,56.07 244.10,55.30 244.88,54.54 245.66,53.81 246.44,53.09 247.22,52.39 248.00,51.72 248.78,51.06 249.56,50.43 250.34,49.82 251.12,49.22 251.90,48.65 252.68,48.10 253.46,47.57 254.24,47.07 255.02,46.58 255.80,46.12 256.58,45.67 257.36,45.25 258.14,44.86 258.92,44.48 259.70,44.13 260.48,43.80 261.26,43.49 262.04,43.20 262.82,42.94 263.60,42.70 264.38,42.48 265.16,42.29 265.94,42.11 266.72,41.96 267.50,41.84 268.28,41.73 269.06,41.65 269.84,41.60 270.62,41.56 271.40,41.55 272.18,41.56 272.96,41.60 273.74,41.65 274.52,41.73 275.30,41.84 276.08,41.96 276.86,42.11 277.64,42.29 278.42,42.48 279.20,42.70 279.98,42.94 280.76,43.20 281.54,43.49 282.32,43.80 283.10,44.13 283.88,44.48 284.66,44.86 285.44,45.25 286.22,45.67 287.00,46.12 287.78,46.58 288.56,47.07 289.34,47.57 290.12,48.10 290.90,48.65 291.68,49.22 292.46,49.82 293.24,50.43 294.02,51.06 294.80,51.72 295.58,52.39 296.36,53.09 297.14,53.81 297.92,54.54 298.70,55.30 299.48,56.07 300.26,56.87 301.04,57.68 301.82,58.52 302.60,59.37 303.38,60.24 304.16,61.13 304.94,62.04 305.72,62.96 306.50,63.90 307.28,64.86 308.06,65.84 308.84,66.84 309.62,67.85 310.40,68.88 311.18,69.92 311.96,70.98 312.74,72.06 313.52,73.15 314.30,74.26 315.08,75.38 315.86,76.51 316.64,77.67 317.42,78.83 318.20,80.01 318.98,81.20 319.76,82.41 320.54,83.63 321.32,84.86 322.10,86.10 322.88,87.36 323.66,88.62 324.44,89.90 325.22,91.19 326.00,92.49 326.78,93.80 327.56,95.12 328.34,96.46 329.12,97.80 329.90,99.15 330.68,100.50 331.46,101.87 332.24,103.25 333.02,104.63 333.80,106.02 334.58,107.42 335.36,108.82 336.14,110.23 336.92,111.65 337.70,113.07 338.48,114.50 339.26,115.93 340.04,117.37 340.82,118.81 341.60,120.25 342.38,121.70 343.16,123.16 343.94,124.61 344.72,126.07 345.50,127.53 346.28,128.99 347.06,130.45 347.84,131.92 348.62,133.38 349.40,134.85" fill="none" stroke="#30ff30" stroke-width="1.2"/>
<circle cx="81.1" cy="46.4" r="1.8" fill="none" stroke="#0000ff" stroke-width="1.1"/>
<circle cx="102.6" cy="33.8" r="1.8" fill="none" stroke="#0000ff" stroke-width="1.1"/>
<circle cx="133.0" cy="47.3" r="1.8" fill="none" stroke="#0000ff" stroke-width="1.1"/>
<circle cx="148.7" cy="54.7" r="1.8" fill="none" stroke="#0000ff" stroke-width="1.1"/>
<circle cx="151.1" cy="57.9" r="1.8" fill="none" stroke="#0000ff" stroke-width="1.1"/>
<circle cx="214.0" cy="97.8" r="1.8" fill="none" stroke="#0000ff" stroke-width="1.1"/>
<circle cx="222.6" cy="82.8" r="1.8" fill="none" stroke="#0000ff" stroke-width="1.1"/>
<circle cx="236.4" cy="66.1" r="1.8" fill="none" stroke="#0000ff" stroke-width="1.1"/>
<circle cx="271.6" cy="39.5" r="1.8" fill="none" stroke="#0000ff" stroke-width="1.1"/>
<circle cx="280.6" cy="43.3" r="1.8" fill="none" stroke="#0000ff" stroke-width="1.1"/>
<circle cx="287.7" cy="44.2" r="1.8" fill="none" stroke="#0000ff" stroke-width="1.1"/>
<circle cx="302.1" cy="69.3" r="1.8" fill="none" stroke="#0000ff" stroke-width="1.1"/>
<circle cx="304.1" cy="68.0" r="1.8" fill="none" stroke="#0000ff" stroke-width="1.1"/>
<circle cx="81.1" cy="203.8" r="1.8" fill="none" stroke="#0000ff" stroke-width="1.1"/>
<circle cx="102.6" cy="217.0" r="1.8" fill="none" stroke="#0000ff" stroke-width="1.1"/>
<circle cx="133.0" cy="232.6" r="1.8" fill="none" stroke="#0000ff" stroke-width="1.1"/>
<circle cx="148.7" cy="213.8" r="1.8" fill="none" stroke="#0000ff" stroke-width="1.1"/>
<circle cx="150.9" cy="204.3" r="1.8" fill="none" stroke="#0000ff" stroke-width="1.1"/>
<circle cx="214.3" cy="162.8" r="1.8" fill="none" stroke="#0000ff" stroke-width="1.1"/>
<circle cx="222.6" cy="187.6" r="1.8" fill="none" stroke="#0000ff" stroke-width="1.1"/>
<circle cx="236.1" cy="208.0" r="1.8" fill="none" stroke="#0000ff" stroke-width="1.1"/>
<circle cx="271.6" cy="231.1" r="1.8" fill="none" stroke="#0000ff" stroke-width="1.1"/>
<circle cx="280.6" cy="222.5" r="1.8" fill="none" stroke="#0000ff" stroke-width="1.1"/>
<circle cx="287.7" cy="222.3" r="1.8" fill="none" stroke="#0000ff" stroke-width="1.1"/>
<circle cx="302.1" cy="208.9" r="1.8" fill="none" stroke="#0000ff" stroke-width="1.1"/>
<circle cx="303.9" cy="209.8" r="1.8" fill="none" stroke="#0000ff" stroke-width="1.1"/>
<rect x="37.4" y="3.3" width="312.0" height="247.2" fill="none" stroke="#262626" stroke-width="0.9" opacity="0.6"/>
<line x1="37.40" y1="250.5" x2="37.40" y2="247.5" stroke="#262626" stroke-width="0.8" opacity="0.6"/>
<line x1="37.40" y1="3.3" x2="37.40" y2="6.3" stroke="#262626" stroke-width="0.8" opacity="0.6"/>
<line x1="68.60" y1="250.5" x2="68.60" y2="247.5" stroke="#262626" stroke-width="0.8" opacity="0.6"/>
<line x1="68.60" y1="3.3" x2="68.60" y2="6.3" stroke="#262626" stroke-width="0.8" opacity="0.6"/>
<line x1="99.80" y1="250.5" x2="99.80" y2="247.5" stroke="#262626" stroke-width="0.8" opacity="0.6"/>
<line x1="99.80" y1="3.3" x2="99.80" y2="6.3" stroke="#262626" stroke-width="0.8" opacity="0.6"/>
<line x1="131.00" y1="250.5" x2="131.00" y2="247.5" stroke="#262626" stroke-width="0.8" opacity="0.6"/>
<line x1="131.00" y1="3.3" x2="131.00" y2="6.3" stroke="#262626" stroke-width="0.8" opacity="0.6"/>
<line x1="162.20" y1="250.5" x2="162.20" y2="247.5" stroke="#262626" stroke-width="0.8" opacity="0.6"/>
<line x1="162.20" y1="3.3" x2="162.20" y2="6.3" stroke="#262626" stroke-width="0.8" opacity="0.6"/>
<line x1="193.40" y1="250.5" x2="193.40" y2="247.5" stroke="#262626" stroke-width="0.8" opacity="0.6"/>
<line x1="193.40" y1="3.3" x2="193.40" y2="6.3" stroke="#262626" stroke-width="0.8" opacity="0.6"/>
<line x1="224.60" y1="250.5" x2="224.60" y2="247.5" stroke="#262626" stroke-width="0.8" opacity="0.6"/>
<line x1="224.60" y1="3.3" x2="224.60" y2="6.3" stroke="#262626" stroke-width="0.8" opacity="0.6"/>
<line x1="255.80" y1="250.5" x2="255.80" y2="247.5" stroke="#262626" stroke-width="0.8" opacity="0.6"/>
<line x1="255.80" y1="3.3" x2="255.80" y2="6.3" stroke="#262626" stroke-width="0.8" opacity="0.6"/>
<line x1="287.00" y1="250.5" x2="287.00" y2="247.5" stroke="#262626" stroke-width="0.8" opacity="0.6"/>
<line x1="287.00" y1="3.3" x2="287.00" y2="6.3" stroke="#262626" stroke-width="0.8" opacity="0.6"/>
<line x1="318.20" y1="250.5" x2="318.20" y2="247.5" stroke="#262626" stroke-width="0.8" opacity="0.6"/>
<line x1="318.20" y1="3.3" x2="318.20" y2="6.3" stroke="#262626" stroke-width="0.8" opacity="0.6"/>
<line x1="349.40" y1="250.5" x2="349.40" y2="247.5" stroke="#262626" stroke-width="0.8" opacity="0.6"/>
<line x1="349.40" y1="3.3" x2="349.40" y2="6.3" stroke="#262626" stroke-width="0.8" opacity="0.6"/>
<line x1="37.4" y1="3.30" x2="40.4" y2="3.30" stroke="#262626" stroke-width="0.8" opacity="0.6"/>
<line x1="349.4" y1="3.30" x2="346.4" y2="3.30" stroke="#262626" stroke-width="0.8" opacity="0.6"/>
<line x1="37.4" y1="34.20" x2="40.4" y2="34.20" stroke="#262626" stroke-width="0.8" opacity="0.6"/>
<line x1="349.4" y1="34.20" x2="346.4" y2="34.20" stroke="#262626" stroke-width="0.8" opacity="0.6"/>
<line x1="37.4" y1="65.10" x2="40.4" y2="65.10" stroke="#262626" stroke-width="0.8" opacity="0.6"/>
<line x1="349.4" y1="65.10" x2="346.4" y2="65.10" stroke="#262626" stroke-width="0.8" opacity="0.6"/>
<line x1="37.4" y1="96.00" x2="40.4" y2="96.00" stroke="#262626" stroke-width="0.8" opacity="0.6"/>
<line x1="349.4" y1="96.00" x2="346.4" y2="96.00" stroke="#262626" stroke-width="0.8" opacity="0.6"/>
<line x1="37.4" y1="126.90" x2="40.4" y2="126.90" stroke="#262626" stroke-width="0.8" opacity="0.6"/>
<line x1="349.4" y1="126.90" x2="346.4" y2="126.90" stroke="#262626" stroke-width="0.8" opacity="0.6"/>
<line x1="37.4" y1="157.80" x2="40.4" y2="157.80" stroke="#262626" stroke-width="0.8" opacity="0.6"/>
<line x1="349.4" y1="157.80" x2="346.4" y2="157.80" stroke="#262626" stroke-width="0.8" opacity="0.6"/>
<line x1="37.4" y1="188.70" x2="40.4" y2="188.70" stroke="#262626" stroke-width="0.8" opacity="0.6"/>
<line x1="349.4" y1="188.70" x2="346.4" y2="188.70" stroke="#262626" stroke-width="0.8" opacity="0.6"/>
<line x1="37.4" y1="219.60" x2="40.4" y2="219.60" stroke="#262626" stroke-width="0.8" opacity="0.6"/>
<line x1="349.4" y1="219.60" x2="346.4" y2="219.60" stroke="#262626" stroke-width="0.8" opacity="0.6"/>
<line x1="37.4" y1="250.50" x2="40.4" y2="250.50" stroke="#262626" stroke-width="0.8" opacity="0.6"/>
<line x1="349.4" y1="250.50" x2="346.4" y2="250.50" stroke="#262626" stroke-width="0.8" opacity="0.6"/>
<text transform="translate(33,7.30) scale(1,1.1)" text-anchor="end" font-size="9.2">150</text>
<text transform="translate(33,38.20) scale(1,1.1)" text-anchor="end" font-size="9.2">100</text>
<text transform="translate(33,69.10) scale(1,1.1)" text-anchor="end" font-size="9.2">50</text>
<text transform="translate(33,100.00) scale(1,1.1)" text-anchor="end" font-size="9.2">0</text>
<text transform="translate(33,130.90) scale(1,1.1)" text-anchor="end" font-size="9.2">-50</text>
<text transform="translate(33,161.80) scale(1,1.1)" text-anchor="end" font-size="9.2">-100</text>
<text transform="translate(33,192.70) scale(1,1.1)" text-anchor="end" font-size="9.2">-150</text>
<text transform="translate(33,223.60) scale(1,1.1)" text-anchor="end" font-size="9.2">-200</text>
<text transform="translate(33,254.50) scale(1,1.1)" text-anchor="end" font-size="9.2">-250</text>
<text transform="translate(37.40,265.3) scale(1,1.1)" text-anchor="middle" font-size="9.2">0</text>
<text transform="translate(68.60,265.3) scale(1,1.1)" text-anchor="middle" font-size="9.2">0.1</text>
<text transform="translate(99.80,265.3) scale(1,1.1)" text-anchor="middle" font-size="9.2">0.2</text>
<text transform="translate(131.00,265.3) scale(1,1.1)" text-anchor="middle" font-size="9.2">0.3</text>
<text transform="translate(162.20,265.3) scale(1,1.1)" text-anchor="middle" font-size="9.2">0.4</text>
<text transform="translate(193.40,265.3) scale(1,1.1)" text-anchor="middle" font-size="9.2">0.5</text>
<text transform="translate(224.60,265.3) scale(1,1.1)" text-anchor="middle" font-size="9.2">0.6</text>
<text transform="translate(255.80,265.3) scale(1,1.1)" text-anchor="middle" font-size="9.2">0.7</text>
<text transform="translate(287.00,265.3) scale(1,1.1)" text-anchor="middle" font-size="9.2">0.8</text>
<text transform="translate(318.20,265.3) scale(1,1.1)" text-anchor="middle" font-size="9.2">0.9</text>
<text transform="translate(349.40,265.3) scale(1,1.1)" text-anchor="middle" font-size="9.2">1</text>
<text transform="translate(193.80,279.0) scale(1,1.0)" text-anchor="middle" font-size="10.4">Phase</text>
<text transform="translate(9.0,126.85) rotate(-90) scale(1.06,1)" text-anchor="middle" font-size="10">Radial Velocity (km/s)</text>
<rect x="151.2" y="11.2" width="84.5" height="37.8" fill="#fff" stroke="#262626" stroke-width="0.9" opacity="1" stroke-opacity="0.6"/>
<circle cx="168.0" cy="18.4" r="3.0" fill="none" stroke="#0000ff" stroke-width="1.05"/>
<line x1="153.9" y1="30.4" x2="182.1" y2="30.4" stroke="#ff0000" stroke-width="0.9" stroke-opacity="0.6"/>
<line x1="153.9" y1="42.3" x2="182.1" y2="42.3" stroke="#00ff00" stroke-width="0.9" stroke-opacity="0.7"/>
<text transform="translate(184.4,22.2) scale(0.975,1)">observed</text>
<text transform="translate(184.4,34.2) scale(0.975,1)">WD fitted</text>
<text transform="translate(184.4,45.8) scale(0.975,1)">directly fitted</text>
</svg>
</body></html>
